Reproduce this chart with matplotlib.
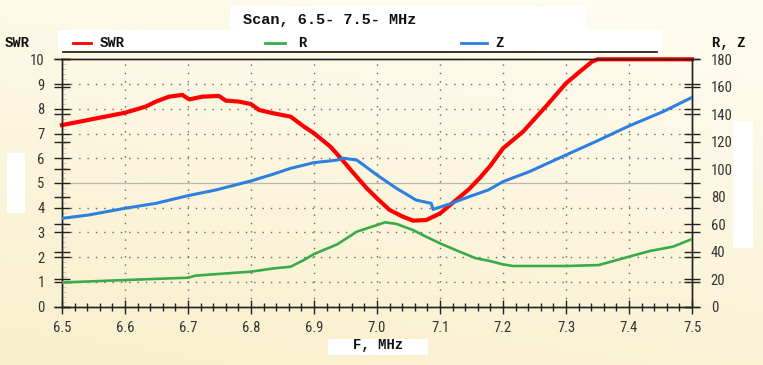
import matplotlib
matplotlib.use("Agg")
import matplotlib.pyplot as plt
import numpy as np
from matplotlib.lines import Line2D
from matplotlib.patches import Rectangle

# data
f_swr = [6.500, 6.542, 6.600, 6.633, 6.649, 6.670, 6.691, 6.702, 6.723, 6.749,
         6.760, 6.781, 6.800, 6.813, 6.835, 6.863, 6.884, 6.900, 6.926, 6.945,
         6.963, 6.984, 7.000, 7.020, 7.041, 7.057, 7.078, 7.100, 7.125, 7.146,
         7.163, 7.180, 7.200, 7.232, 7.270, 7.300, 7.320, 7.341, 7.350, 7.500]
swr = [7.34, 7.55, 7.84, 8.09, 8.29, 8.49, 8.56, 8.38, 8.49, 8.52,
       8.33, 8.29, 8.19, 7.95, 7.82, 7.68, 7.28, 7.01, 6.47, 5.93,
       5.39, 4.78, 4.38, 3.91, 3.64, 3.48, 3.50, 3.77, 4.30, 4.75,
       5.20, 5.70, 6.40, 7.08, 8.15, 9.03, 9.46, 9.90, 10.0, 10.0]

f_r = [6.500, 6.600, 6.700, 6.712, 6.800, 6.835, 6.863, 6.884, 6.900, 6.937,
       6.968, 7.000, 7.013, 7.031, 7.057, 7.078, 7.100, 7.125, 7.157, 7.177,
       7.200, 7.216, 7.300, 7.352, 7.400, 7.433, 7.470, 7.500]
r = [17.6, 19.4, 21.1, 22.6, 25.5, 27.8, 29.1, 34.0, 38.3, 45.4,
     54.6, 59.4, 61.4, 60.2, 55.8, 50.9, 46.1, 41.2, 35.2, 33.5,
     30.8, 29.6, 29.6, 30.3, 36.4, 40.5, 43.7, 49.2]

f_z = [6.500, 6.542, 6.600, 6.649, 6.700, 6.744, 6.800, 6.835, 6.863, 6.900,
       6.937, 6.947, 6.968, 7.000, 7.031, 7.062, 7.086, 7.089, 7.115, 7.146,
       7.177, 7.200, 7.242, 7.300, 7.347, 7.400, 7.454, 7.500]
z = [64.3, 66.7, 71.6, 75.2, 80.8, 84.9, 91.5, 96.4, 100.7, 104.8,
     106.7, 108.0, 106.7, 95.8, 86.1, 77.6, 75.2, 70.8, 74.7, 80.0,
     85.0, 91.0, 98.3, 110.4, 120.1, 131.5, 141.9, 152.3]

x_ticks = [6.5, 6.6, 6.7, 6.8, 6.9, 7.0, 7.1, 7.2, 7.3, 7.4, 7.5]

red = "#ff0000"
green = "#39ab48"
blue = "#2f7fdf"
narrow = ["Liberation Sans Narrow", "DejaVu Sans Condensed", "Roboto Condensed", "Liberation Sans"]
mono = ["Liberation Mono", "DejaVu Sans Mono"]

W, H = 763, 365
fig = plt.figure(figsize=(W / 100, H / 100), dpi=100)

# cream gradient background
bg = fig.add_axes([0, 0, 1, 1], zorder=-10)
yy, xx = np.mgrid[0:1:200j, 0:1:200j]
t = np.clip(0.75 * yy + 0.25 * (1 - xx), 0, 1)
top = np.array([255, 253, 242]) / 255
bot = np.array([249, 239, 204]) / 255
grad = top[None, None, :] * (1 - t[..., None]) + bot[None, None, :] * t[..., None]
bg.imshow(grad, aspect="auto", extent=[0, 1, 0, 1], origin="upper")
bg.axis("off")

def px(x, y):
    return x / W, 1 - y / H

# white patches seen on the original
for (x0, y0, x1, y1) in [(230, 6, 587, 30), (58, 30, 663, 50), (328, 339, 428, 355),
                         (7, 153, 25, 213), (733, 121, 753, 248)]:
    fig.patches.append(Rectangle((x0 / W, 1 - y1 / H), (x1 - x0) / W, (y1 - y0) / H,
                                 transform=fig.transFigure, facecolor="white",
                                 edgecolor="none", zorder=-5))

ax = fig.add_axes([62 / W, 1 - 306.7 / H, 630 / W, 247.4 / H])
ax.patch.set_alpha(0)
ax2 = ax.twinx()
ax2.patch.set_alpha(0)

ax.set_xlim(6.5, 7.5)
ax.set_ylim(0, 10)
ax2.set_ylim(0, 180)

for yv in range(1, 10):
    if yv == 5:
        ax.axhline(yv, color="#b8b8b0", lw=0.9, zorder=1)
    else:
        ax.axhline(yv, color="#666666", lw=1, ls=(0, (1, 5)), zorder=1)
for xv in x_ticks[1:-1]:
    ax.axvline(xv, color="#666666", lw=1, ls=(0, (1, 5)), zorder=1)

ax.plot(f_swr, swr, color=red, lw=3, clip_on=False, zorder=5)
ax2.plot(f_r, r, color=green, lw=1.9, zorder=4)
ax2.plot(f_z, z, color=blue, lw=2.2, zorder=4)

ax.set_xticks(x_ticks)
ax.set_xticklabels(["%.1f" % v for v in x_ticks])
ax.set_xticks(np.arange(6.5, 7.5001, 0.02), minor=True)
ax.set_yticks(range(0, 11))
ax.set_yticks(np.arange(0, 10.01, 0.2), minor=True)
ax2.set_yticks(range(0, 181, 20))

ax.yaxis.set_ticks_position("both")
ax2.yaxis.set_ticks_position("both")
ax.tick_params(axis="y", which="major", direction="inout", length=11, width=1,
               labelleft=True, labelright=False, colors="#222", labelsize=10.5, pad=7)
ax.tick_params(axis="y", which="minor", direction="in", length=3, width=0.6,
               color="#ccc8b0", left=True, right=False)
ax2.tick_params(axis="y", which="major", direction="inout", length=11, width=1,
                labelleft=False, labelright=True, colors="#222", labelsize=10.5, pad=8)
ax.tick_params(axis="x", which="major", direction="inout", length=10, width=1,
               colors="#222", labelsize=10.5, pad=5)
ax.tick_params(axis="x", which="minor", direction="inout", length=6, width=1, color="#222")

for lab in ax.get_xticklabels() + ax.get_yticklabels() + ax2.get_yticklabels():
    lab.set_family(narrow)
    lab.set_color("#333333")

for a in (ax, ax2):
    for s in a.spines.values():
        s.set_color("#222")
        s.set_linewidth(1)

# titles and legend row
fig.text(*px(330, 20), "Scan, 6.5- 7.5- MHz", family=mono, weight="bold",
         fontsize=11, ha="center", va="center", color="#111")
fig.text(*px(5, 43), "SWR", family=mono, weight="bold", fontsize=10,
         ha="left", va="center", color="#111")
fig.text(*px(745, 43), "R, Z", family=mono, weight="bold", fontsize=10,
         ha="right", va="center", color="#111")
fig.text(*px(378, 345), "F, MHz", family=mono, weight="bold", fontsize=10,
         ha="center", va="center", color="#111")

legend_items = [("SWR", red, 73, 91, 100), ("R", green, 265, 285, 298), ("Z", blue, 461, 487, 495)]
for name, col, x0, x1, xt in legend_items:
    fig.add_artist(Line2D([x0 / W, x1 / W], [1 - 43 / H] * 2, color=col, lw=2,
                          transform=fig.transFigure))
    fig.text(*px(xt, 43), name, family=mono, weight="bold", fontsize=10,
             ha="left", va="center", color="#111")
fig.add_artist(Line2D([63 / W, 657 / W], [1 - 52 / H] * 2, color="#111", lw=1.2,
                      transform=fig.transFigure))

fig.savefig("out.png", dpi=100)
